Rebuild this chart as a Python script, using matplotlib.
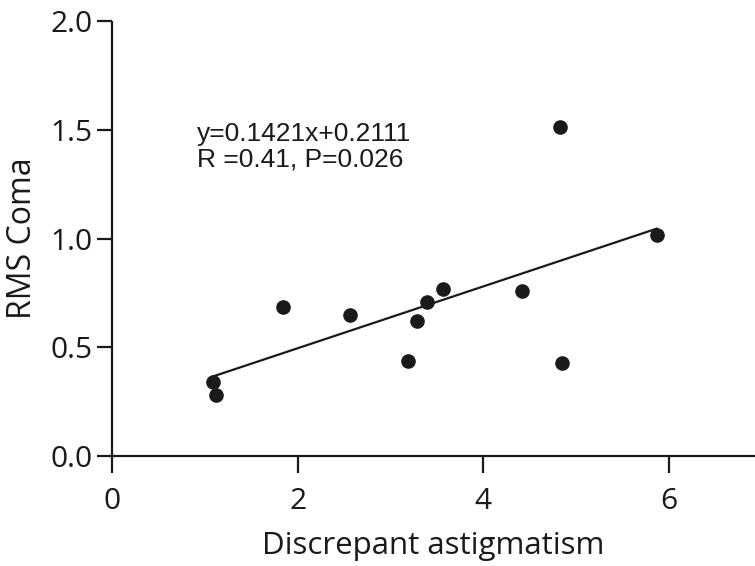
import numpy as np
import matplotlib
matplotlib.use("Agg")
import matplotlib.pyplot as plt

# values
astig = [1.09, 1.12, 1.84, 2.57, 3.19, 3.29, 3.39, 3.57, 4.42, 4.83, 4.85, 5.87]
coma = [0.342, 0.28, 0.686, 0.648, 0.438, 0.621, 0.708, 0.766, 0.759, 1.514, 0.429, 1.016]
slope, intercept = 0.1421, 0.2111
xticks = [0, 2, 4, 6]
yticks = [0.0, 0.5, 1.0, 1.5, 2.0]

ink = "#1a1a1a"
plt.rcParams['font.family'] = ['Open Sans', 'DejaVu Sans']

fig = plt.figure(figsize=(7.55, 5.66), dpi=100)
ax = fig.add_axes([112/755, 1-456/566, 1-112/755, (456-21)/566])

x = np.array(astig)
xf = np.array([x.min(), x.max()])
ax.plot(xf, slope*xf + intercept, color=ink, linewidth=1.6, zorder=2)
ax.plot(astig, coma, 'o', color=ink, markersize=9.5, zorder=3, clip_on=False)

ax.set_xlim(0, 6.93)
ax.set_ylim(0, 2.0)
ax.set_xticks(xticks)
ax.set_yticks(yticks)
ax.set_yticklabels([f"{v:.1f}" for v in yticks])

for s in ("top", "right"):
	ax.spines[s].set_visible(False)
for s in ("left", "bottom"):
	ax.spines[s].set_linewidth(1.6)
	ax.spines[s].set_color(ink)
	ax.spines[s].set_capstyle("butt")
ax.tick_params(axis="both", direction="out", width=1.6, color=ink,
	labelsize=21.5, labelcolor=ink)
ax.tick_params(axis="x", length=12, pad=10)
ax.tick_params(axis="y", length=11, pad=3)

ax.set_xlabel("Discrepant astigmatism", fontsize=22.5, color=ink, labelpad=11)
ax.set_ylabel("RMS Coma", fontsize=23, color=ink, labelpad=8)

ax.text(197/755, 1-122/566, "y=0.1421x+0.2111\nR =0.41, P=0.026", transform=fig.transFigure,
	fontsize=19, family=["Liberation Sans", "DejaVu Sans"], color=ink,
	ha="left", va="top", linespacing=1.1)

fig.savefig("out.png", dpi=100)
